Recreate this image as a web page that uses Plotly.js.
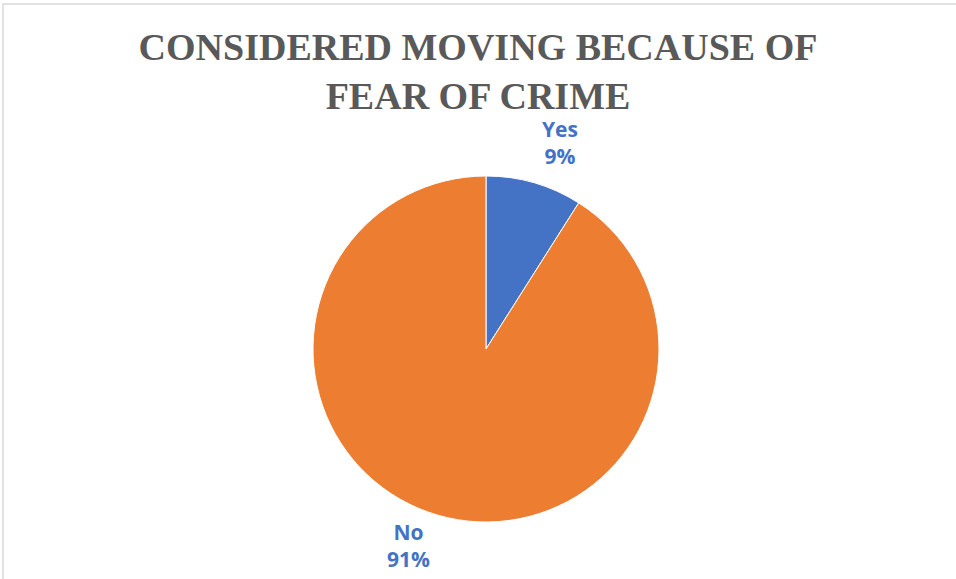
<!DOCTYPE html>
<html>
<head>
<meta charset="utf-8">
<script src="https://cdn.plot.ly/plotly-3.0.1.min.js"></script>
<style>html,body{margin:0;padding:0;background:#fff;}#chart{width:956px;height:579px;}</style>
</head>
<body>
<div id="chart"></div>
<script>
const categories = ["Yes", "No"];
const values = [9, 91];
const colors = ["#4472C4", "#ED7D31"];
const titleText = "CONSIDERED MOVING BECAUSE OF<br>FEAR OF CRIME";

const W = 956, H = 579;
const total = values.reduce((a, b) => a + b, 0);
const labelPos = [{x: 560, y: 142}, {x: 408, y: 545}];

const annotations = categories.map((c, i) => ({
  xref: "paper", yref: "paper",
  x: labelPos[i].x / W, y: 1 - labelPos[i].y / H,
  xanchor: "center", yanchor: "middle",
  showarrow: false,
  text: "<b>" + c + "</b><br><b>" + Math.round(values[i] / total * 100) + "%</b>",
  font: {family: "'Open Sans', Lato, sans-serif", size: 21, color: "#4472C4"},
  align: "center"
}));

const data = [{
  type: "pie",
  labels: categories,
  values: values,
  marker: {colors: colors, line: {color: "#ffffff", width: 1}},
  sort: false,
  direction: "clockwise",
  rotation: 0,
  textinfo: "none",
  hoverinfo: "label+percent",
  domain: {x: [313 / W, 659 / W], y: [1 - 522 / H, 1 - 176 / H]}
}];

const layout = {
  width: W, height: H,
  margin: {l: 0, r: 0, t: 0, b: 0},
  paper_bgcolor: "#ffffff",
  showlegend: false,
  title: {
    text: "<b>" + titleText + "</b>",
    font: {family: "'Liberation Serif', 'DejaVu Serif', serif", size: 38, color: "#595959"},
    x: 0.5, xanchor: "center",
    y: 1 - 60 / H, yanchor: "middle"
  },
  annotations: annotations,
  shapes: [{
    type: "rect", xref: "paper", yref: "paper",
    x0: 3 / W, x1: 1.02, y0: -0.02, y1: 1 - 4 / H,
    line: {color: "#d9d9d9", width: 1.5}
  }]
};

Plotly.newPlot("chart", data, layout, {displayModeBar: false});
</script>
</body>
</html>
